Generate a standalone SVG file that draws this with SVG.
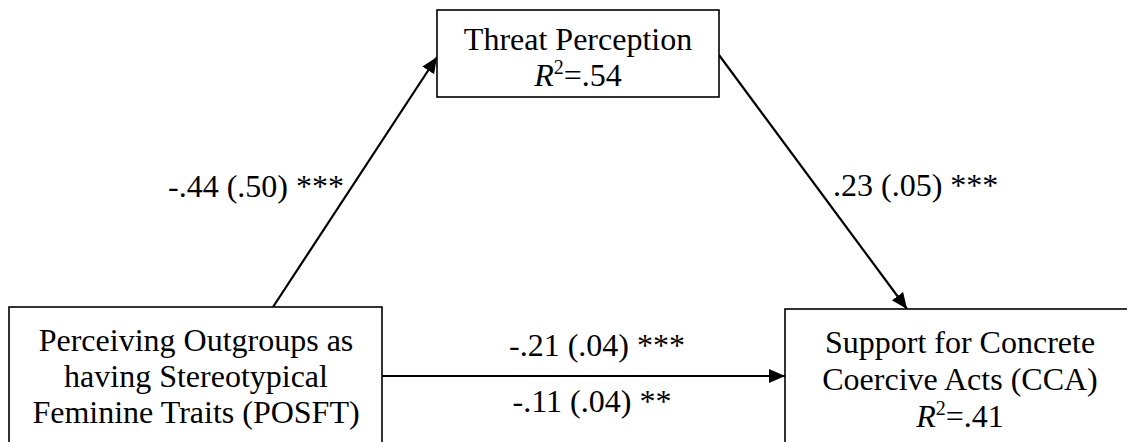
<svg xmlns="http://www.w3.org/2000/svg" width="1127" height="442" viewBox="0 0 1127 442">
  <defs>
    <style>
      text { font-family: "Liberation Serif", "Times New Roman", serif; font-size: 32px; fill: #000; }
      .box { fill: #fff; stroke: #000; stroke-width: 1.6; }
      .conn { stroke: #000; stroke-width: 2.2; fill: none; marker-end: url(#arrow); }
      .it { font-style: italic; }
      .sup { font-size: 20px; }
    </style>
    <marker id="arrow" markerUnits="userSpaceOnUse" markerWidth="16" markerHeight="16" viewBox="0 0 16 16" refX="16" refY="8" orient="auto">
      <path d="M0,1 L16,8 L0,15 z" fill="#000"/>
    </marker>
  </defs>
  <rect width="1127" height="442" fill="#fff"/>

  <g id="connectors">
    <line class="conn" x1="273" y1="307" x2="437" y2="57"/>
    <line class="conn" x1="719" y1="55" x2="907" y2="309"/>
    <line class="conn" x1="382" y1="376" x2="785" y2="376"/>
    <text x="168" y="197">-.44 (.50) ***</text>
    <text x="833" y="196">.23 (.05) ***</text>
    <text x="597" y="356" text-anchor="middle">-.21 (.04) ***</text>
    <text x="592" y="412" text-anchor="middle">-.11 (.04) **</text>
  </g>

  <g id="threat">
    <rect class="box" x="437" y="10" width="282" height="87"/>
    <text x="578" y="50" text-anchor="middle">Threat Perception</text>
    <text x="578" y="86" text-anchor="middle"><tspan class="it">R</tspan><tspan class="sup" dy="-12">2</tspan><tspan dy="12">=.54</tspan></text>
  </g>

  <g id="posft">
    <rect class="box" x="9" y="307" width="373" height="140"/>
    <text x="196" y="351" text-anchor="middle">Perceiving Outgroups as</text>
    <text x="196" y="387" text-anchor="middle">having Stereotypical</text>
    <text x="196" y="423" text-anchor="middle">Feminine Traits (POSFT)</text>
  </g>

  <g id="cca">
    <rect class="box" x="785" y="309" width="360" height="140"/>
    <text x="960" y="353" text-anchor="middle">Support for Concrete</text>
    <text x="960" y="390" text-anchor="middle">Coercive Acts (CCA)</text>
    <text x="960" y="427" text-anchor="middle"><tspan class="it">R</tspan><tspan class="sup" dy="-12">2</tspan><tspan dy="12">=.41</tspan></text>
  </g>
</svg>
